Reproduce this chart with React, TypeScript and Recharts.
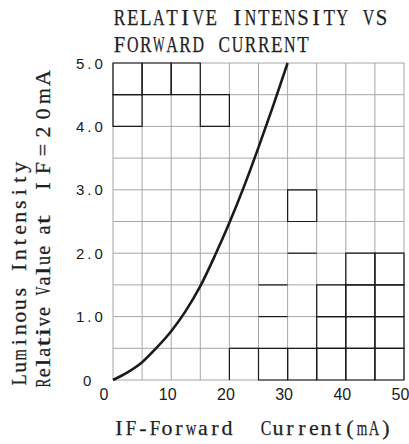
import React from "react";
import {
  LineChart,
  Line,
  XAxis,
  YAxis,
  CartesianGrid,
  ReferenceArea,
  ReferenceLine,
} from "recharts";

// forward current (mA) and relative luminous intensity
const currents = [0, 2.5, 5, 7.5, 10, 12.5, 15, 17.5, 20, 22.5, 25, 27.5, 30];
const intensity = [0, 0.12, 0.28, 0.51, 0.77, 1.09, 1.48, 1.96, 2.48, 3.05, 3.67, 4.32, 5.0];

const xTicks = [0, 5, 10, 15, 20, 25, 30, 35, 40, 45, 50];
const yTicks = [0, 0.5, 1, 1.5, 2, 2.5, 3, 3.5, 4, 4.5, 5];
const xTickLabels = [0, 10, 20, 30, 40, 50];
const yTickValues = [0, 1, 2, 3, 4, 5];
const yTickLabels = ["0", "1.0", "2.0", "3.0", "4.0", "5.0"];

const titleLines = ["RELATIVE INTENSITY VS", "FORWARD CURRENT"];
const xTitle = ["IF-Forward", "Current(mA)"];
const yTitle = ["Luminous Intensity", "Relative Value at", "IF=20mA"];

// grid cells that are drawn with heavy black lines in the sheet
const darkCells = [
  [0, 5, 4.5, 5], [5, 10, 4.5, 5], [10, 15, 4.5, 5],
  [0, 5, 4, 4.5], [15, 20, 4, 4.5],
  [30, 35, 2.5, 3],
  [40, 45, 1.5, 2], [45, 50, 1.5, 2],
  [35, 40, 1, 1.5], [40, 45, 1, 1.5], [45, 50, 1, 1.5],
  [35, 40, 0.5, 1], [40, 45, 0.5, 1], [45, 50, 0.5, 1],
  [25, 30, 0, 0.5], [30, 35, 0, 0.5], [35, 40, 0, 0.5], [40, 45, 0, 0.5], [45, 50, 0, 0.5],
];
const darkEdges = [
  [20, 0, 20, 0.5], [20, 0.5, 25, 0.5],
  [25, 1, 30, 1], [25, 1.5, 30, 1.5], [30, 2, 35, 2],
];

const data = currents.map((c, i) => ({ current: c, value: intensity[i] }));

// rough Times glyph widths (em), used to squeeze wide glyphs into a fixed pitch
const glyphW: Record<string, number> = {
  A: 0.72, B: 0.67, C: 0.67, D: 0.72, E: 0.61, F: 0.56, I: 0.33, L: 0.61, M: 0.89,
  N: 0.72, O: 0.72, R: 0.67, S: 0.56, T: 0.61, U: 0.72, V: 0.72, W: 0.94, Y: 0.72,
  m: 0.78, w: 0.72, "=": 0.56, "2": 0.5, "0": 0.5,
};

const SERIF = "'Liberation Serif', 'DejaVu Serif', serif";

function MonoText({ text, x, y, step, size = 22, fill = "#1f1f1f", rotate = false }: any) {
  const maxW = step * 0.88;
  const spans = text.split("").map((c: string, i: number) => {
    if (c === " ") return null;
    const w = (glyphW[c] ?? 0.45) * size;
    const squeeze = w > maxW;
    return (
      <tspan
        key={i}
        x={i * step + step / 2}
        textLength={squeeze ? maxW : undefined}
        lengthAdjust={squeeze ? "spacingAndGlyphs" : undefined}
      >
        {c}
      </tspan>
    );
  });
  return (
    <g transform={`translate(${x},${y})${rotate ? " rotate(-90)" : ""}`}>
      <text
        y={0}
        textAnchor="middle"
        fontFamily={SERIF}
        fontSize={size}
        fill={fill}
        stroke={fill}
        strokeWidth={0.25}
      >
        {spans}
      </text>
    </g>
  );
}

const XTick = ({ x, payload }: any) => {
  const v = payload.value;
  if (!xTickLabels.includes(v)) return <g />;
  return (
    <text
      x={x - (v === 0 ? 9 : 3.5)}
      y={400}
      textAnchor="middle"
      fontFamily="'Liberation Sans', Arial, sans-serif"
      fontSize={16}
      fill="#1a1a1a"
    >
      {v}
    </text>
  );
};

const YTick = ({ y, payload }: any) => {
  const idx = yTickValues.indexOf(payload.value);
  if (idx < 0) return <g />;
  return (
    <text
      x={idx === 0 ? 83 : 76}
      y={y + 5.5}
      textAnchor="start"
      fontFamily="'Liberation Sans', Arial, sans-serif"
      fontSize={15}
      letterSpacing={3}
      fill="#1a1a1a"
    >
      {yTickLabels[idx]}
    </text>
  );
};

export default function App() {
  return (
    <div style={{ position: "absolute", left: 0, top: 0, width: 409, height: 444, background: "#fff" }}>
      <LineChart
        width={409}
        height={444}
        data={data}
        margin={{ top: 63, right: 5, bottom: 0, left: 0 }}
      >
        <CartesianGrid stroke="#a6a6a6" strokeWidth={1} />
        <XAxis
          type="number"
          dataKey="current"
          domain={[0, 50]}
          ticks={xTicks}
          interval={0}
          height={64}
          axisLine={false}
          tickLine={false}
          tick={<XTick />}
        />
        <YAxis
          type="number"
          domain={[0, 5]}
          ticks={yTicks}
          interval={0}
          width={113}
          axisLine={false}
          tickLine={false}
          tick={<YTick />}
        />
        {darkCells.map(([x1, x2, y1, y2], i) => (
          <ReferenceArea
            key={`c${i}`}
            x1={x1}
            x2={x2}
            y1={y1}
            y2={y2}
            fill="none"
            fillOpacity={0}
            stroke="#1a1a1a"
            strokeWidth={1.2}
            ifOverflow="visible"
          />
        ))}
        {darkEdges.map(([x1, y1, x2, y2], i) => (
          <ReferenceLine
            key={`e${i}`}
            segment={[{ x: x1, y: y1 }, { x: x2, y: y2 }]}
            stroke="#1a1a1a"
            strokeWidth={1.2}
            ifOverflow="visible"
          />
        ))}
        <Line
          type="monotone"
          dataKey="value"
          stroke="#1a1a1a"
          strokeWidth={2.6}
          dot={false}
          isAnimationActive={false}
        />
      </LineChart>
      <svg
        width={409}
        height={444}
        style={{ position: "absolute", left: 0, top: 0, pointerEvents: "none" }}
      >
        <MonoText text={titleLines[0]} x={113} y={25} step={13.1} size={23} />
        <MonoText text={titleLines[1]} x={113} y={52} step={13.1} size={23} />
        <MonoText text={xTitle[0]} x={113} y={435} step={12} />
        <MonoText text={xTitle[1]} x={260} y={435} step={12} />
        <MonoText text={yTitle[0]} x={25.5} y={386} step={12.5} rotate />
        <MonoText text={yTitle[1]} x={50} y={388} step={10.2} rotate />
        <MonoText text={yTitle[2]} x={50} y={195} step={18} rotate />
      </svg>
    </div>
  );
}
